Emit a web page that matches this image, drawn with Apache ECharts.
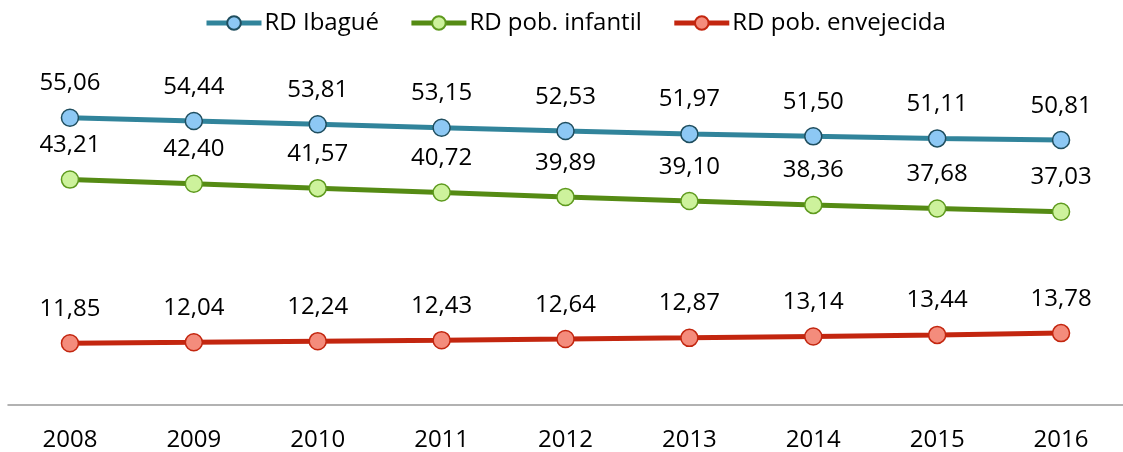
<!DOCTYPE html>
<html>
<head>
<meta charset="utf-8">
<script src="https://cdn.jsdelivr.net/npm/echarts@6/dist/echarts.min.js"></script>
<style>
html, body { margin: 0; padding: 0; background: #fff; }
#chart { width: 1123px; height: 452px; }
</style>
</head>
<body>
<div id="chart"></div>
<script>
var years = ['2008', '2009', '2010', '2011', '2012', '2013', '2014', '2015', '2016'];
var rdIbague = [55.06, 54.44, 53.81, 53.15, 52.53, 51.97, 51.50, 51.11, 50.81];
var rdInfantil = [43.21, 42.40, 41.57, 40.72, 39.89, 39.10, 38.36, 37.68, 37.03];
var rdEnvejecida = [11.85, 12.04, 12.24, 12.43, 12.64, 12.87, 13.14, 13.44, 13.78];

var fontFam = '"Open Sans", Lato, sans-serif';

function fmt(p) {
    return p.value.toFixed(2).replace('.', ',');
}

function mkSeries(name, data, lineColor, fill, border) {
    return {
        name: name,
        type: 'line',
        data: data,
        symbol: 'circle',
        symbolSize: 17,
        lineStyle: { color: lineColor, width: 5 },
        itemStyle: { color: fill, borderColor: border, borderWidth: 1.5 },
        label: {
            show: true,
            position: 'top',
            distance: 13,
            formatter: fmt,
            color: '#000',
            fontSize: 24,
            fontFamily: fontFam
        }
    };
}

var myChart = echarts.init(document.getElementById('chart'));
var option = {
    animation: false,
    legend: {
        top: 6,
        left: 199,
        itemWidth: 55,
        itemHeight: 17,
        itemGap: 30,
        lineStyle: { width: 5 },
        textStyle: { fontSize: 24, fontFamily: fontFam, color: '#000', padding: [0, 0, 0, -2] },
        data: ['RD Ibagué', 'RD pob. infantil', 'RD pob. envejecida']
    },
    grid: { left: 8, right: -4, top: 92, bottom: 46 },
    xAxis: {
        type: 'category',
        data: years,
        axisLine: { lineStyle: { color: '#999', width: 1.5 } },
        axisTick: { show: false },
        axisLabel: { fontSize: 24, fontFamily: fontFam, color: '#000', margin: 23 }
    },
    yAxis: {
        type: 'value',
        min: 0,
        max: 60,
        show: false
    },
    series: [
        mkSeries('RD Ibagué', rdIbague, '#31849B', '#8DC8F4', '#1F4E5F'),
        mkSeries('RD pob. infantil', rdInfantil, '#558B14', '#CDF29C', '#5E9A1E'),
        mkSeries('RD pob. envejecida', rdEnvejecida, '#C3260F', '#F48C7C', '#C3260F')
    ]
};
myChart.setOption(option);
</script>
</body>
</html>
